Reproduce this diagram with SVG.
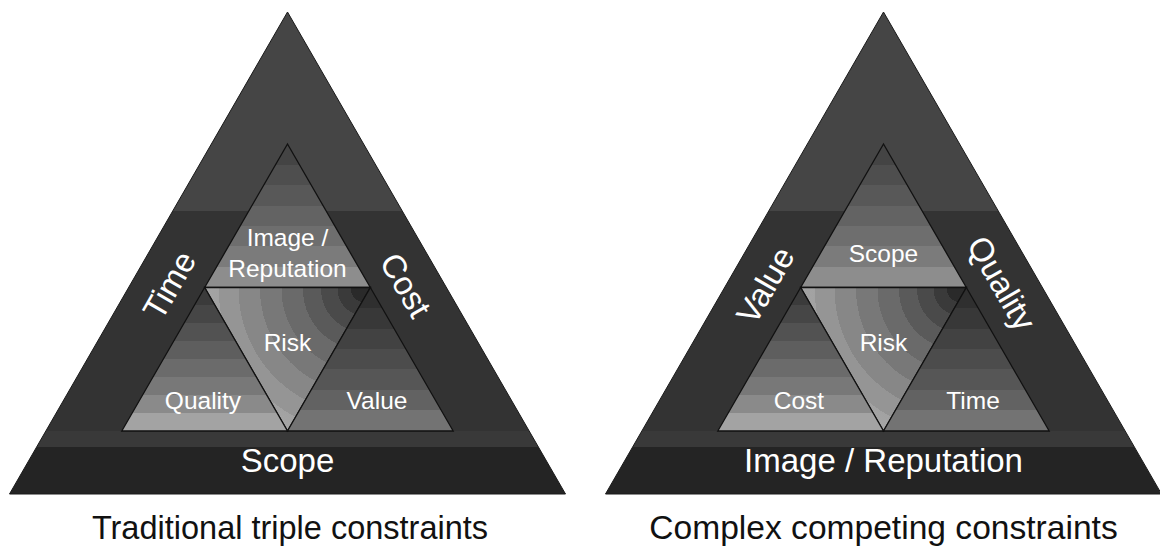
<svg xmlns="http://www.w3.org/2000/svg" width="1160" height="547" viewBox="0 0 1160 547">
  <style>
    .lbl { font-family: "Liberation Sans", Arial, sans-serif; fill: #ffffff; text-anchor: middle; }
    .in { font-size: 24.5px; }
    .side { font-size: 33px; }
    .title { font-family: "Liberation Sans", Arial, sans-serif; fill: #111111; font-size: 32.5px; text-anchor: middle; }
    .outer { stroke: #1a1a1a; stroke-width: 1; stroke-linejoin: miter; }
    .inner { stroke: #111111; stroke-width: 1.3; stroke-linejoin: miter; }
  </style>
  <defs>
    <linearGradient id="gOuter" gradientUnits="userSpaceOnUse" x1="0" y1="12" x2="0" y2="494">
      <stop offset="0" stop-color="#454545"/>
      <stop offset="0.413" stop-color="#454545"/>
      <stop offset="0.413" stop-color="#333333"/>
      <stop offset="0.869" stop-color="#333333"/>
      <stop offset="0.869" stop-color="#393939"/>
      <stop offset="0.902" stop-color="#393939"/>
      <stop offset="0.902" stop-color="#242424"/>
      <stop offset="1" stop-color="#242424"/>
    </linearGradient>
    <linearGradient id="gTop" gradientUnits="userSpaceOnUse" x1="0" y1="144" x2="0" y2="287.5">
      <stop offset="0" stop-color="#444444"/>
      <stop offset="0.143" stop-color="#444444"/>
      <stop offset="0.143" stop-color="#4e4e4e"/>
      <stop offset="0.286" stop-color="#4e4e4e"/>
      <stop offset="0.286" stop-color="#585858"/>
      <stop offset="0.429" stop-color="#585858"/>
      <stop offset="0.429" stop-color="#636363"/>
      <stop offset="0.571" stop-color="#636363"/>
      <stop offset="0.571" stop-color="#6e6e6e"/>
      <stop offset="0.714" stop-color="#6e6e6e"/>
      <stop offset="0.714" stop-color="#7b7b7b"/>
      <stop offset="0.857" stop-color="#7b7b7b"/>
      <stop offset="0.857" stop-color="#8d8d8d"/>
      <stop offset="1" stop-color="#8d8d8d"/>
    </linearGradient>
    <linearGradient id="gLeft" gradientUnits="userSpaceOnUse" x1="0" y1="287.5" x2="0" y2="431">
      <stop offset="0" stop-color="#3b3b3b"/>
      <stop offset="0.125" stop-color="#3b3b3b"/>
      <stop offset="0.125" stop-color="#464646"/>
      <stop offset="0.25" stop-color="#464646"/>
      <stop offset="0.25" stop-color="#525252"/>
      <stop offset="0.375" stop-color="#525252"/>
      <stop offset="0.375" stop-color="#5e5e5e"/>
      <stop offset="0.5" stop-color="#5e5e5e"/>
      <stop offset="0.5" stop-color="#6b6b6b"/>
      <stop offset="0.625" stop-color="#6b6b6b"/>
      <stop offset="0.625" stop-color="#787878"/>
      <stop offset="0.75" stop-color="#787878"/>
      <stop offset="0.75" stop-color="#8a8a8a"/>
      <stop offset="0.875" stop-color="#8a8a8a"/>
      <stop offset="0.875" stop-color="#a3a3a3"/>
      <stop offset="1" stop-color="#a3a3a3"/>
    </linearGradient>
    <linearGradient id="gRight" gradientUnits="userSpaceOnUse" x1="0" y1="287.5" x2="0" y2="431">
      <stop offset="0" stop-color="#2f2f2f"/>
      <stop offset="0.143" stop-color="#2f2f2f"/>
      <stop offset="0.143" stop-color="#383838"/>
      <stop offset="0.286" stop-color="#383838"/>
      <stop offset="0.286" stop-color="#424242"/>
      <stop offset="0.429" stop-color="#424242"/>
      <stop offset="0.429" stop-color="#4c4c4c"/>
      <stop offset="0.571" stop-color="#4c4c4c"/>
      <stop offset="0.571" stop-color="#565656"/>
      <stop offset="0.714" stop-color="#565656"/>
      <stop offset="0.714" stop-color="#626262"/>
      <stop offset="0.857" stop-color="#626262"/>
      <stop offset="0.857" stop-color="#737373"/>
      <stop offset="1" stop-color="#737373"/>
    </linearGradient>
    <radialGradient id="gRisk" gradientUnits="userSpaceOnUse" cx="364" cy="289" r="165">
      <stop offset="0" stop-color="#2a2a2a"/>
      <stop offset="0.08" stop-color="#2a2a2a"/>
      <stop offset="0.08" stop-color="#3a3a3a"/>
      <stop offset="0.16" stop-color="#3a3a3a"/>
      <stop offset="0.16" stop-color="#4a4a4a"/>
      <stop offset="0.26" stop-color="#4a4a4a"/>
      <stop offset="0.26" stop-color="#5a5a5a"/>
      <stop offset="0.37" stop-color="#5a5a5a"/>
      <stop offset="0.37" stop-color="#6a6a6a"/>
      <stop offset="0.5" stop-color="#6a6a6a"/>
      <stop offset="0.5" stop-color="#787878"/>
      <stop offset="0.63" stop-color="#787878"/>
      <stop offset="0.63" stop-color="#878787"/>
      <stop offset="0.76" stop-color="#878787"/>
      <stop offset="0.76" stop-color="#959595"/>
      <stop offset="0.88" stop-color="#959595"/>
      <stop offset="0.88" stop-color="#a2a2a2"/>
      <stop offset="1" stop-color="#a6a6a6"/>
    </radialGradient>
  </defs>

  <g id="traditional">
    <g id="t-outer">
      <polygon class="outer" points="287.5,12 565.5,494 9.5,494" fill="url(#gOuter)"/>
      <text class="lbl side" transform="translate(169,285) rotate(-60)" y="11.8">Time</text>
      <text class="lbl side" transform="translate(406,285) rotate(60)" y="11.8">Cost</text>
      <text class="lbl side" x="287.5" y="472">Scope</text>
    </g>
    <g id="t-image">
      <polygon class="inner" points="287.5,144 370.35,287.5 204.65,287.5" fill="url(#gTop)"/>
      <text class="lbl in" x="287.5" y="246">Image /</text>
      <text class="lbl in" x="287.5" y="276.5">Reputation</text>
    </g>
    <g id="t-risk">
      <polygon class="inner" points="204.65,287.5 370.35,287.5 287.5,431" fill="url(#gRisk)"/>
      <text class="lbl in" x="287.5" y="351">Risk</text>
    </g>
    <g id="t-quality">
      <polygon class="inner" points="204.65,287.5 287.5,431 121.8,431" fill="url(#gLeft)"/>
      <text class="lbl in" x="203" y="409">Quality</text>
    </g>
    <g id="t-value">
      <polygon class="inner" points="370.35,287.5 453.2,431 287.5,431" fill="url(#gRight)"/>
      <text class="lbl in" x="377" y="409">Value</text>
    </g>
    <text id="t-title" class="title" x="290" y="539">Traditional triple constraints</text>
  </g>

  <g id="complex" transform="translate(596,0)">
    <g id="c-outer">
      <polygon class="outer" points="287.5,12 565.5,494 9.5,494" fill="url(#gOuter)"/>
      <text class="lbl side" transform="translate(169,285) rotate(-60)" y="11.8">Value</text>
      <text class="lbl side" transform="translate(406,283) rotate(60)" y="11.8">Quality</text>
      <text class="lbl side" x="287.5" y="472">Image / Reputation</text>
    </g>
    <g id="c-scope">
      <polygon class="inner" points="287.5,144 370.35,287.5 204.65,287.5" fill="url(#gTop)"/>
      <text class="lbl in" x="287.5" y="262">Scope</text>
    </g>
    <g id="c-risk">
      <polygon class="inner" points="204.65,287.5 370.35,287.5 287.5,431" fill="url(#gRisk)"/>
      <text class="lbl in" x="287.5" y="351">Risk</text>
    </g>
    <g id="c-cost">
      <polygon class="inner" points="204.65,287.5 287.5,431 121.8,431" fill="url(#gLeft)"/>
      <text class="lbl in" x="203" y="409">Cost</text>
    </g>
    <g id="c-time">
      <polygon class="inner" points="370.35,287.5 453.2,431 287.5,431" fill="url(#gRight)"/>
      <text class="lbl in" x="377" y="409">Time</text>
    </g>
    <text id="c-title" class="title" x="287.5" y="539" style="font-size:33.6px">Complex competing constraints</text>
  </g>
</svg>
